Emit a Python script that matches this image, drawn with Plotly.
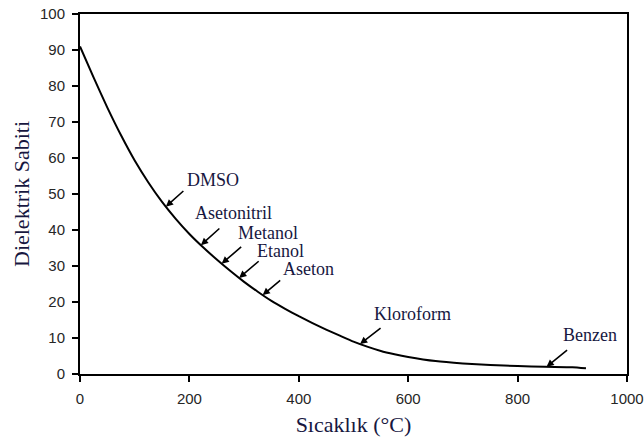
import numpy as np
import plotly.graph_objects as go

# Dielectric constant of water vs temperature
temperature = [0, 25, 50, 75, 100, 125, 150, 175, 200, 225, 250, 275, 300, 325,
               350, 375, 400, 425, 450, 475, 500, 525, 550, 575, 600, 650, 700,
               750, 800, 850, 900, 925]
dielectric = [91, 82.3, 74, 66.3, 59.3, 53.2, 47.8, 43.1, 38.9, 35.2, 31.8, 28.6, 25.6, 22.85,
              20.3, 18.1, 16.05, 14.15, 12.35, 10.65, 9.0, 7.6, 6.4, 5.5, 4.75, 3.6, 2.95,
              2.5, 2.2, 2.0, 1.9, 1.6]

# Solvents: temperature at which water matches each solvent's dielectric constant
solvents = ["DMSO", "Asetonitril", "Metanol", "Etanol", "Aseton", "Kloroform", "Benzen"]
solvent_temp = [157, 221, 259, 291, 334, 512, 853]

x_ticks = [0, 200, 400, 600, 800, 1000]
y_ticks = [0, 10, 20, 30, 40, 50, 60, 70, 80, 90, 100]

# label placement (pixels, relative to the arrow tip): arrow tail, text left edge, text bottom
arrow_tail = [(19, -17), (20, -18), (21, -18), (21, -18), (19, -16), (22, -17), (22, -18)]
text_pos = [(20, 16), (-7, 21), (15, 20), (17, 16), (19, 15), (13, 19), (15, 21)]

title_color = "#17173f"
serif = "Liberation Serif"
sans = "Liberation Sans"

fig = go.Figure()
fig.add_trace(go.Scatter(
    x=temperature, y=dielectric, mode="lines",
    line=dict(color="black", width=2, shape="spline", smoothing=0.5),
    showlegend=False, hoverinfo="skip",
))

annotations = []
tip_y = np.interp(solvent_temp, temperature, dielectric)
for name, tx, ty, (ax, ay), (dx, dy) in zip(solvents, solvent_temp, tip_y, arrow_tail, text_pos):
    annotations.append(dict(
        x=tx, y=float(ty), xref="x", yref="y", text="",
        showarrow=True, ax=ax, ay=ay, arrowhead=2, arrowsize=0.9,
        arrowwidth=1.6, arrowcolor="black", standoff=0, startstandoff=0,
    ))
    annotations.append(dict(
        x=tx, y=float(ty), xref="x", yref="y", text=name, showarrow=False,
        xanchor="left", yanchor="bottom", xshift=dx, yshift=dy, borderpad=0,
        font=dict(family=serif, size=18, color=title_color),
    ))

axis_common = dict(
    showline=True, linecolor="black", linewidth=2, mirror=True,
    ticks="outside", ticklen=6, tickwidth=1.5, tickcolor="black",
    showgrid=False, zeroline=False, automargin=False,
    tickfont=dict(family=sans, size=15, color="#262626"),
)

fig.update_layout(
    width=644, height=446,
    margin=dict(l=80, r=17, t=14, b=72),
    paper_bgcolor="white", plot_bgcolor="white",
    xaxis=dict(range=[0, 1000], tickvals=x_ticks, ticklabelstandoff=4,
               title=dict(text="Sıcaklık (°C)", standoff=11,
                          font=dict(family=serif, size=22, color=title_color)),
               **axis_common),
    yaxis=dict(range=[0, 100], tickvals=y_ticks, ticklabelstandoff=4,
               title=dict(text="Dielektrik Sabiti", standoff=4,
                          font=dict(family=serif, size=22, color=title_color)),
               **axis_common),
    annotations=annotations,
)

fig.write_html("out.html")
